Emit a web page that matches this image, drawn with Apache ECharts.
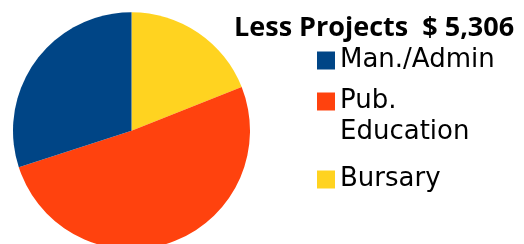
<!DOCTYPE html>
<html>
<head>
<meta charset="utf-8">
<style>
  html, body { margin: 0; padding: 0; background: #fff; }
  #chart { width: 524px; height: 244px; }
</style>
<script src="https://cdn.jsdelivr.net/npm/echarts@6/dist/echarts.min.js"></script>
</head>
<body>
<div id="chart"></div>
<script>
// slice order as drawn, clockwise from 12 o'clock
const categories = ['Bursary', 'Pub. Education', 'Man./Admin'];
const values = [1008, 2706, 1592];
const colors = ['#ffd320', '#ff420e', '#004586'];
const titleText = 'Less Projects  $ 5,306';

const chart = echarts.init(document.getElementById('chart'));

const legendText = {
    color: '#000',
    fontSize: 26,
    fontFamily: 'DejaVu Sans',
    lineHeight: 31
};

// the wrapped label gets a blank first line so "Pub." sits level with its square
function legendLabel(n) {
    return n === 'Pub. Education' ? '\u00a0\nPub.\nEducation' : n;
}

function makeLegend(name, top) {
    return {
        orient: 'vertical',
        left: 317,
        top: top,
        padding: 0,
        itemWidth: 18,
        itemHeight: 18,
        icon: 'rect',
        selectedMode: false,
        data: [name],
        textStyle: legendText,
        formatter: legendLabel
    };
}

const option = {
    animation: false,
    title: {
        text: titleText,
        left: 234,
        top: 15,
        padding: 0,
        textStyle: {
            color: '#000',
            fontSize: 27,
            fontWeight: 'bold',
            fontFamily: 'Open Sans'
        }
    },
    legend: [
        makeLegend('Man./Admin', 45),
        makeLegend('Pub. Education', 55),
        makeLegend('Bursary', 164)
    ],
    series: [{
        type: 'pie',
        center: [131.5, 130.7],
        radius: 118.5,
        startAngle: 90,
        clockwise: true,
        label: { show: false },
        labelLine: { show: false },
        emphasis: { disabled: true },
        data: categories.map((c, i) => ({
            name: c,
            value: values[i],
            itemStyle: { color: colors[i] }
        }))
    }]
};

chart.setOption(option);
</script>
</body>
</html>
